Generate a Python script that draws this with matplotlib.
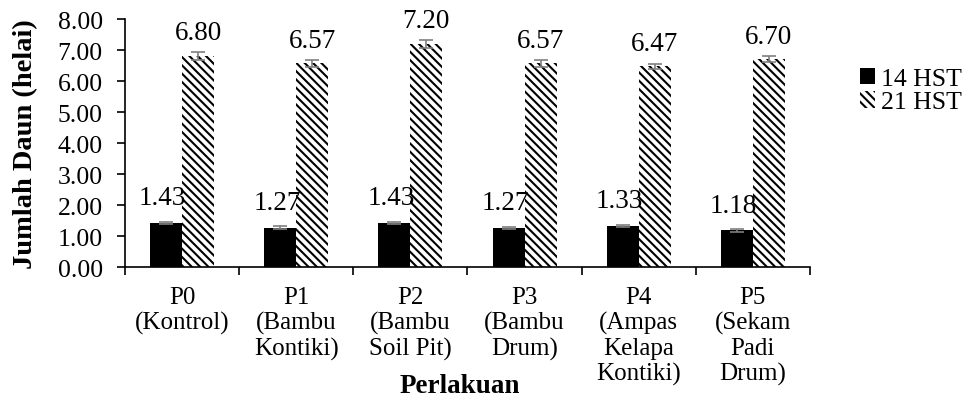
import matplotlib
matplotlib.use('Agg')
import matplotlib.pyplot as plt
import numpy as np

categories = ['P0\n(Kontrol)', 'P1\n(Bambu\nKontiki)', 'P2\n(Bambu\nSoil Pit)',
              'P3\n(Bambu\nDrum)', 'P4\n(Ampas\nKelapa\nKontiki)', 'P5\n(Sekam\nPadi\nDrum)']
hst14 = [1.43, 1.27, 1.43, 1.27, 1.33, 1.18]
hst21 = [6.80, 6.57, 7.20, 6.57, 6.47, 6.70]
err14 = [0.03, 0.04, 0.03, 0.03, 0.04, 0.04]
err21 = [0.12, 0.12, 0.12, 0.12, 0.09, 0.10]
series_names = ['14 HST', '21 HST']

plt.rcParams['font.family'] = ['Liberation Serif', 'DejaVu Serif']
plt.rcParams['hatch.linewidth'] = 1.5
plt.rcParams['hatch.color'] = 'black'

fig = plt.figure(figsize=(9.72, 4.10), dpi=100)
ax = fig.add_axes([0.1286, 0.3463, 0.7047, 0.6049])

x = np.arange(len(categories))
w = 0.28
ekw = dict(ecolor='#7f7f7f', elinewidth=1.2, capsize=5, capthick=1.2)
b1 = ax.bar(x - w / 2, hst14, w, color='black', edgecolor='black', linewidth=0,
            yerr=err14, error_kw=ekw, label=series_names[0])
b2 = ax.bar(x + w / 2, hst21, w, color='white', edgecolor='black', linewidth=0,
            hatch='\\\\\\\\', yerr=err21, error_kw=ekw, label=series_names[1])

for xi, v in zip(x - w / 2, hst14):
    ax.text(xi - 0.03, v + 0.8, '%.2f' % v, ha='center', va='center', fontsize=19.5)
for xi, v in zip(x + w / 2, hst21):
    ax.text(xi, v + 0.75, '%.2f' % v, ha='center', va='center', fontsize=19.5)

ax.set_xlim(-0.5, len(categories) - 0.5)
ax.set_ylim(0, 8)
ax.set_yticks(np.arange(0, 8.01, 1))
ax.set_yticklabels(['%.2f' % t for t in np.arange(0, 8.01, 1)], fontsize=18.5)

ax.set_xticks(np.arange(-0.5, len(categories), 1))
ax.set_xticklabels([])
ax.set_xticks(x, minor=True)
ax.set_xticklabels(categories, minor=True, fontsize=18, linespacing=1.16)
ax.tick_params(axis='x', which='minor', length=0, pad=14)
ax.tick_params(axis='x', which='major', length=6, width=1.2, direction='out')
ax.tick_params(axis='y', length=6, width=1.2, direction='out', pad=10)

ax.spines['top'].set_visible(False)
ax.spines['right'].set_visible(False)
ax.spines['left'].set_linewidth(1.2)
ax.spines['bottom'].set_linewidth(1.2)

ax.set_ylabel('Jumlah Daun (helai)', fontsize=20.5, fontweight='bold', labelpad=14)
fig.text(0.473, 0.058, 'Perlakuan', ha='center', va='center', fontsize=19.5, fontweight='bold')

leg = ax.legend(loc='upper left', bbox_to_anchor=(1.058, 0.845), frameon=False,
                fontsize=18.5, handlelength=0.6, handleheight=0.6, handletextpad=0.2,
                labelspacing=0.05, borderaxespad=0)

fig.savefig('out.png', dpi=100)
